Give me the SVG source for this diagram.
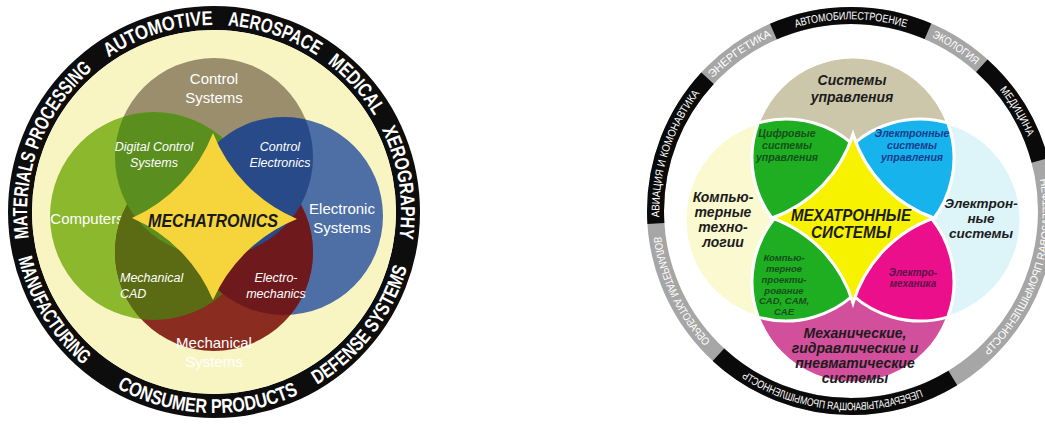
<svg xmlns="http://www.w3.org/2000/svg" width="1045" height="424" viewBox="0 0 1045 424">
<style>
  .ringL { font-family: "Liberation Sans", Arial, sans-serif; font-weight: bold; font-size: 20px; fill: #ffffff; }
  .ringR { font-family: "Liberation Sans", Arial, sans-serif; font-size: 11px; fill: #ffffff; }
  .lbl { font-family: "Liberation Sans", Arial, sans-serif; fill: #ffffff; text-anchor: middle; }
  .it { font-style: italic; }
  .rt { font-family: "Liberation Sans", Arial, sans-serif; font-weight: bold; font-style: italic; fill: #1c1c1c; text-anchor: middle; }
  .sep { stroke: #ffffff; stroke-width: 3; }
  .dg { fill: #14501a; }
  .db { fill: #1b3b8c; }
  .dp { fill: #5a1446; }
</style>
<defs>
  <path id="lcw" d="M 214 399 A 187 187 0 0 1 214 25 A 187 187 0 0 1 214 399"/>
  <path id="lccw" d="M 214 11 A 201 201 0 0 0 214 413 A 201 201 0 0 0 214 11"/>
  <path id="rcw" d="M 851 402.7 A 191.7 191.7 0 0 1 851 19.3 A 191.7 191.7 0 0 1 851 402.7"/>
  <path id="rccw" d="M 851 11.8 A 199.2 199.2 0 0 0 851 410.2 A 199.2 199.2 0 0 0 851 11.8"/>
  <clipPath id="cpL"><circle cx="154" cy="216" r="104"/></clipPath>
  <clipPath id="cpR"><circle cx="284" cy="216" r="99"/></clipPath>
  <clipPath id="qTL"><rect x="600" y="0" width="253" height="220"/></clipPath>
  <clipPath id="qTR"><rect x="853" y="0" width="200" height="220"/></clipPath>
  <clipPath id="qBL"><rect x="600" y="220" width="253" height="204"/></clipPath>
  <clipPath id="qBR"><rect x="853" y="220" width="200" height="204"/></clipPath>
</defs>
<rect width="1045" height="424" fill="#ffffff"/>

<!-- ===== LEFT DIAGRAM ===== -->
<g id="left-ring">
  <circle cx="214" cy="212" r="194" fill="none" stroke="#0d0d0d" stroke-width="24"/>
  <circle cx="214" cy="212" r="182" fill="#f9f5c3"/>
</g>
<g id="left-ring-labels" class="ringL" text-anchor="middle">
  <text><textPath href="#lcw" startOffset="30.76%" textLength="188" lengthAdjust="spacingAndGlyphs">MATERIALS PROCESSING</textPath></text>
  <text><textPath href="#lcw" startOffset="45.18%" textLength="111" lengthAdjust="spacingAndGlyphs">AUTOMOTIVE</textPath></text>
  <text><textPath href="#lcw" startOffset="55.21%" textLength="95" lengthAdjust="spacingAndGlyphs">AEROSPACE</textPath></text>
  <text><textPath href="#lcw" startOffset="63.38%" textLength="71" lengthAdjust="spacingAndGlyphs">MEDICAL</textPath></text>
  <text><textPath href="#lcw" startOffset="72.49%" textLength="112" lengthAdjust="spacingAndGlyphs">XEROGRAPHY</textPath></text>
  <text><textPath href="#lccw" startOffset="33.72%" textLength="127" lengthAdjust="spacingAndGlyphs">MANUFACTURING</textPath></text>
  <text><textPath href="#lccw" startOffset="49.44%" textLength="189" lengthAdjust="spacingAndGlyphs">CONSUMER PRODUCTS</textPath></text>
  <text><textPath href="#lccw" startOffset="64.54%" textLength="151" lengthAdjust="spacingAndGlyphs">DEFENSE SYSTEMS</textPath></text>
</g>

<g id="control-systems">
  <circle cx="214" cy="157" r="99" fill="#9a8e6d"/>
  <text class="lbl" font-size="15" x="214" y="84">Control</text>
  <text class="lbl" font-size="15" x="214" y="103">Systems</text>
</g>
<g id="computers">
  <circle cx="154" cy="216" r="104" fill="#8bb82c"/>
  <text class="lbl" font-size="15" x="87" y="224">Computers</text>
</g>
<g id="electronic-systems">
  <circle cx="284" cy="216" r="99" fill="#4d6fa5"/>
  <text class="lbl" font-size="15" x="342" y="214">Electronic</text>
  <text class="lbl" font-size="15" x="342" y="233">Systems</text>
</g>
<g id="mechanical-systems">
  <circle cx="214" cy="252" r="99" fill="#8a2c1f"/>
  <text class="lbl" font-size="15" x="214" y="348">Mechanical</text>
  <text class="lbl" font-size="15" x="214" y="367">Systems</text>
</g>
<g id="mechanical-cad">
  <circle cx="214" cy="252" r="99" fill="#5b6b14" clip-path="url(#cpL)"/>
  <text class="lbl it" font-size="12.5" x="120" y="282" text-anchor="start" style="text-anchor:start">Mechanical</text>
  <text class="lbl it" font-size="12.5" x="120" y="298" text-anchor="start" style="text-anchor:start">CAD</text>
</g>
<g id="electro-mechanics">
  <circle cx="214" cy="252" r="99" fill="#6e1a1d" clip-path="url(#cpR)"/>
  <text class="lbl it" font-size="12.5" x="276" y="282">Electro-</text>
  <text class="lbl it" font-size="12.5" x="276" y="298">mechanics</text>
</g>
<g id="digital-control-systems">
  <circle cx="214" cy="157" r="99" fill="#5a8e1e" clip-path="url(#cpL)"/>
  <text class="lbl it" font-size="12.5" x="154" y="151">Digital Control</text>
  <text class="lbl it" font-size="12.5" x="154" y="167">Systems</text>
</g>
<g id="control-electronics">
  <circle cx="214" cy="157" r="99" fill="#284a88" clip-path="url(#cpR)"/>
  <text class="lbl it" font-size="12.5" x="280" y="151">Control</text>
  <text class="lbl it" font-size="12.5" x="280" y="167">Electronics</text>
</g>
<g id="mechatronics">
  <path d="M 213 133 A 155 155 0 0 1 132 218 A 155 155 0 0 1 213 300 A 155 155 0 0 1 297 219 A 155 155 0 0 1 213 133 Z" fill="#f5d53b"/>
  <text class="lbl" font-size="19" font-weight="bold" font-style="italic" style="fill:#1a1a1a" x="213" y="227" textLength="130" lengthAdjust="spacingAndGlyphs">MECHATRONICS</text>
</g>

<!-- ===== RIGHT DIAGRAM ===== -->
<g id="right-ring">
  <circle cx="851" cy="211" r="195.5" fill="none" stroke="#a6a6a6" stroke-width="17"/>
  <circle cx="851" cy="211" r="195.5" fill="none" stroke="#0a0a0a" stroke-width="17" pathLength="360" stroke-dasharray="0 58.6 74.1 43.6 46.5 23.8 46.6 18.8 33 15"/>
</g>
<g id="right-ring-labels" class="ringR" text-anchor="middle">
  <text><textPath href="#rcw" startOffset="30%" textLength="133" lengthAdjust="spacingAndGlyphs">АВИАЦИЯ И КОМОНАВТИКА</textPath></text>
  <text><textPath href="#rcw" startOffset="40.19%" textLength="73" lengthAdjust="spacingAndGlyphs">ЭНЕРГЕТИКА</textPath></text>
  <text><textPath href="#rcw" startOffset="50%" textLength="112" lengthAdjust="spacingAndGlyphs">АВТОМОБИЛЕСТРОЕНИЕ</textPath></text>
  <text><textPath href="#rcw" startOffset="59.08%" textLength="52" lengthAdjust="spacingAndGlyphs">ЭКОЛОГИЯ</textPath></text>
  <text><textPath href="#rcw" startOffset="66.39%" textLength="55" lengthAdjust="spacingAndGlyphs">МЕДИЦИНА</textPath></text>
  <g transform="matrix(-1 0 0 1 1702 0)">
    <text><textPath href="#rccw" startOffset="30.14%" textLength="195" lengthAdjust="spacingAndGlyphs">НЕФТЕГАЗОВАЯ ПРОМЫШЛЕННОСТЬ</textPath></text>
    <text><textPath href="#rccw" startOffset="51.67%" textLength="190" lengthAdjust="spacingAndGlyphs">ПЕРЕРАБАТЫВАЮЩАЯ ПРОМЫШЛЕННОСТЬ</textPath></text>
    <text><textPath href="#rccw" startOffset="68%" textLength="122" lengthAdjust="spacingAndGlyphs">ОБРАБОТКА МАТЕРИАЛОВ</textPath></text>
  </g>
</g>

<g id="computer-tech">
  <circle cx="786" cy="220" r="101" fill="#fbf9cf" class="sep"/>
  <text class="rt" font-size="14" x="723" y="202">Компью-</text>
  <text class="rt" font-size="14" x="723" y="217">терные</text>
  <text class="rt" font-size="14" x="723" y="232">техно-</text>
  <text class="rt" font-size="14" x="723" y="247">логии</text>
</g>
<g id="electronic-sys">
  <circle cx="920" cy="220" r="101" fill="#ddf4f8" class="sep"/>
  <text class="rt" font-size="13.5" x="981" y="208">Электрон-</text>
  <text class="rt" font-size="13.5" x="981" y="223">ные</text>
  <text class="rt" font-size="13.5" x="981" y="238">системы</text>
</g>
<g id="control-sys">
  <circle cx="853" cy="158" r="101" fill="#ccc7ab" class="sep"/>
  <text class="rt" font-size="14" x="852" y="85">Системы</text>
  <text class="rt" font-size="14" x="852" y="102">управления</text>
</g>
<g id="mech-sys">
  <circle cx="853" cy="282" r="101" fill="#d24f9c" class="sep"/>
  <text class="rt" font-size="14" x="855" y="338">Механические,</text>
  <text class="rt" font-size="14" x="855" y="353">гидравлические и</text>
  <text class="rt" font-size="14" x="855" y="368">пневматические</text>
  <text class="rt" font-size="14" x="855" y="383">системы</text>
</g>
<g id="digital-control">
  <path d="M 758.3 122.9 A 101 101 0 0 0 880.7 255.1 A 101 101 0 0 0 758.3 122.9 Z" fill="#1fae22" class="sep" clip-path="url(#qTL)"/>
  <text class="rt dg" font-size="10.5" x="787" y="137">Цифровые</text>
  <text class="rt dg" font-size="10.5" x="787" y="149">системы</text>
  <text class="rt dg" font-size="10.5" x="787" y="161">управления</text>
</g>
<g id="electronic-control">
  <path d="M 947.7 122.9 A 101 101 0 0 1 825.3 255.1 A 101 101 0 0 1 947.7 122.9 Z" fill="#16b3ec" class="sep" clip-path="url(#qTR)"/>
  <text class="rt db" font-size="10.5" x="912" y="137">Электронные</text>
  <text class="rt db" font-size="10.5" x="912" y="149">системы</text>
  <text class="rt db" font-size="10.5" x="912" y="161">управления</text>
</g>
<g id="cad-cam-cae">
  <path d="M 758.3 317.1 A 101 101 0 0 1 880.7 184.9 A 101 101 0 0 1 758.3 317.1 Z" fill="#1fae22" class="sep" clip-path="url(#qBL)"/>
  <text class="rt dg" font-size="9.5" x="784" y="260.5">Компью-</text>
  <text class="rt dg" font-size="9.5" x="784" y="271.5">терное</text>
  <text class="rt dg" font-size="9.5" x="784" y="282.5">проекти-</text>
  <text class="rt dg" font-size="9.5" x="784" y="293.5">рование</text>
  <text class="rt dg" font-size="9.5" x="784" y="304">CAD, CAM,</text>
  <text class="rt dg" font-size="9.5" x="784" y="314.5">CAE</text>
</g>
<g id="electromechanics">
  <path d="M 947.7 317.1 A 101 101 0 0 0 825.3 184.9 A 101 101 0 0 0 947.7 317.1 Z" fill="#ec0f8c" class="sep" clip-path="url(#qBR)"/>
  <text class="rt dp" font-size="10" x="913" y="276">Электро-</text>
  <text class="rt dp" font-size="10" x="913" y="287">механика</text>
</g>
<g id="mechatronic-systems">
  <path d="M 853 134 A 130 130 0 0 1 772 218 A 130 130 0 0 1 853 303 A 130 130 0 0 1 934 218 A 130 130 0 0 1 853 134 Z" fill="#f6f200" class="sep"/>
  <text class="rt" font-size="17" x="851" y="221" textLength="120" lengthAdjust="spacingAndGlyphs">МЕХАТРОННЫЕ</text>
  <text class="rt" font-size="17" x="851" y="238" textLength="80" lengthAdjust="spacingAndGlyphs">СИСТЕМЫ</text>
</g>
</svg>
